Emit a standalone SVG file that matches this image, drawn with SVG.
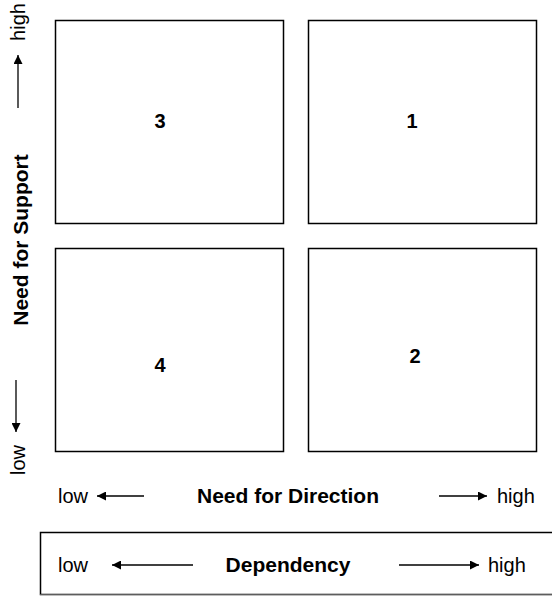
<svg xmlns="http://www.w3.org/2000/svg" width="552" height="596" viewBox="0 0 552 596">
<style>
.box{fill:#fff;stroke:#000;stroke-width:1.5}
.t{font-family:"Liberation Sans",Arial,sans-serif;font-size:20px;fill:#000}
.b{font-weight:bold;font-size:21px}
.num{font-family:"Liberation Sans",Arial,sans-serif;font-size:20px;font-weight:bold;text-anchor:middle}
.ln{stroke:#000;stroke-width:1.3;fill:none}
</style>
<defs>
<marker id="ah" viewBox="0 0 10 10" refX="10" refY="5" markerWidth="11" markerHeight="9" markerUnits="userSpaceOnUse" orient="auto">
<path d="M0,0 L10,5 L0,10 z" fill="#000"/>
</marker>
</defs>
<rect width="552" height="596" fill="#fff"/>
<g id="q3"><rect class="box" x="55.5" y="20.5" width="228" height="203"/><text class="num" x="160" y="128">3</text></g>
<g id="q1"><rect class="box" x="308.5" y="20.5" width="228" height="203"/><text class="num" x="412" y="128">1</text></g>
<g id="q4"><rect class="box" x="55.5" y="248.5" width="228" height="203"/><text class="num" x="160" y="372">4</text></g>
<g id="q2"><rect class="box" x="308.5" y="248.5" width="228" height="203"/><text class="num" x="415" y="363">2</text></g>
<g id="support-axis">
<text class="t b" text-anchor="middle" transform="translate(28,240) rotate(-90)">Need for Support</text>
<text class="t" text-anchor="middle" transform="translate(25,22) rotate(-90)">high</text>
<text class="t" text-anchor="middle" transform="translate(25,460) rotate(-90)">low</text>
</g>
<g id="direction-axis">
<text class="t" x="58" y="503">low</text>
<text class="t b" x="288" y="503" text-anchor="middle">Need for Direction</text>
<text class="t" x="497" y="503">high</text>
</g>
<g id="dependency">
<rect x="40.5" y="532.5" width="520" height="62" fill="none" stroke="#000" stroke-width="1.5"/>
<line x1="40" y1="595" x2="552" y2="595" stroke="#bbb" stroke-width="1"/>
<text class="t" x="58" y="572">low</text>
<text class="t b" x="288" y="572" text-anchor="middle">Dependency</text>
<text class="t" x="488" y="572">high</text>
</g>
<g id="connectors">
<line class="ln" x1="18" y1="108" x2="18" y2="55" marker-end="url(#ah)"/>
<line class="ln" x1="16" y1="380" x2="16" y2="432" marker-end="url(#ah)"/>
<line class="ln" x1="144" y1="496" x2="97" y2="496" marker-end="url(#ah)"/>
<line class="ln" x1="439" y1="496" x2="487" y2="496" marker-end="url(#ah)"/>
<line class="ln" x1="193" y1="565" x2="112" y2="565" marker-end="url(#ah)"/>
<line class="ln" x1="399" y1="565" x2="479" y2="565" marker-end="url(#ah)"/>
</g>
</svg>
